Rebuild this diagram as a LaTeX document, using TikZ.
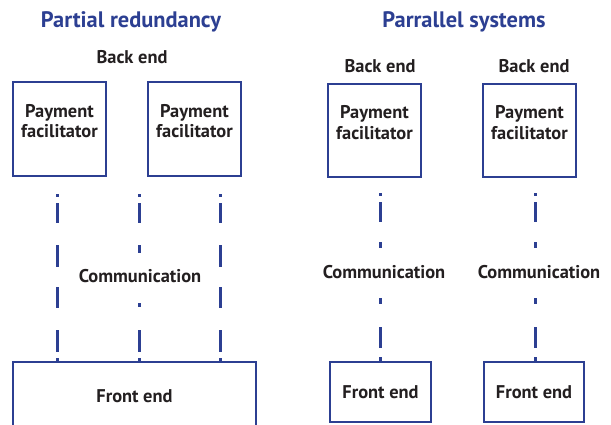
\documentclass[tikz,border=0pt]{standalone}
\usepackage{fontspec}
\setmainfont{PT Sans}
\usepackage{xcolor}
\usepackage{tikz}
\usetikzlibrary{positioning}

\definecolor{schemeblue}{HTML}{2C3F92}
\definecolor{schemetext}{HTML}{231F20}

\tikzset{
  unitbox/.style={draw=schemeblue,line width=1.2pt,fill=white,align=center,
    font=\fontsize{9.2}{10.3}\selectfont\bfseries,text=schemetext,inner sep=0pt},
  plainlabel/.style={font=\fontsize{9.2}{10.3}\selectfont\bfseries,text=schemetext,inner sep=0pt},
  schemetitle/.style={font=\fontsize{11.2}{13}\selectfont\bfseries,text=schemeblue,inner sep=0pt},
  commline/.style={draw=schemeblue,line width=1.5pt},
}

\begin{document}
\begin{tikzpicture}[x=0.5pt,y=-0.5pt]
  \useasboundingbox[fill=white] (0,0) rectangle (611,424);
  % titles
  \node[schemetitle] (titlepart) at (131,22) {Partial redundancy};
  \node[schemetitle] (titlepar) at (464,22) {Parrallel systems};
  % back end labels
  \node[plainlabel] (backpart) at (132,57) {Back end};
  \node[plainlabel] (backparl) at (380,66) {Back end};
  \node[plainlabel] (backparr) at (534,66) {Back end};
  % payment facilitators
  \node[unitbox,minimum width=46.5pt,minimum height=47pt,text depth=8pt] (pfa) at (59.5,129) {Payment\\facilitator};
  \node[unitbox,minimum width=46.5pt,minimum height=47pt,text depth=8pt] (pfb) at (194.5,129) {Payment\\facilitator};
  \node[unitbox,minimum width=46.5pt,minimum height=46.5pt,text depth=8pt] (pfl) at (374.5,130.5) {Payment\\facilitator};
  \node[unitbox,minimum width=46.5pt,minimum height=46.5pt,text depth=8pt] (pfr) at (529.5,130.5) {Payment\\facilitator};
  % front ends
  \node[unitbox,minimum width=121.5pt,minimum height=34pt] (fepart) at (134.5,396) {Front end};
  \node[unitbox,minimum width=50.5pt,minimum height=30pt] (fel) at (380.5,392) {Front end};
  \node[unitbox,minimum width=50pt,minimum height=30pt] (fer) at (534,392) {Front end};
  % communication links
  \coordinate (ta) at (57,194);
  \coordinate (tb) at (139,194);
  \coordinate (tc) at (220,194);
  \coordinate (tl) at (380,193);
  \coordinate (tr) at (535,193);
  \draw[commline,dash pattern=on 1.5pt off 3pt on 10pt off 11pt on 11pt off 10pt on 10.5pt off 11pt on 11pt off 3pt on 2pt]
    (ta) -- (ta |- fepart.north);
  \draw[commline,dash pattern=on 1.5pt off 3pt on 10pt off 11pt on 4pt off 25pt on 2pt off 11.5pt on 11pt off 3pt on 2pt]
    (tb) -- (tb |- fepart.north);
  \draw[commline,dash pattern=on 1.5pt off 3pt on 10pt off 11pt on 11pt off 10pt on 10.5pt off 11pt on 11pt off 3pt on 2pt]
    (tc) -- (tc |- fepart.north);
  \draw[commline,dash pattern=on 1.5pt off 3pt on 10pt off 10pt on 3pt off 25pt on 3pt off 11.5pt on 10.5pt off 4.5pt on 2.5pt]
    (tl) -- (tl |- fel.north);
  \draw[commline,dash pattern=on 1.5pt off 3pt on 10pt off 10pt on 3pt off 25pt on 3pt off 11.5pt on 10.5pt off 4.5pt on 2.5pt]
    (tr) -- (tr |- fer.north);
  % communication labels
  \node[plainlabel,fill=white] (compart) at (140,276) {Communication};
  \node[plainlabel] (comparl) at (384,272) {Communication};
  \node[plainlabel] (comparr) at (539,272) {Communication};
\end{tikzpicture}
\end{document}
